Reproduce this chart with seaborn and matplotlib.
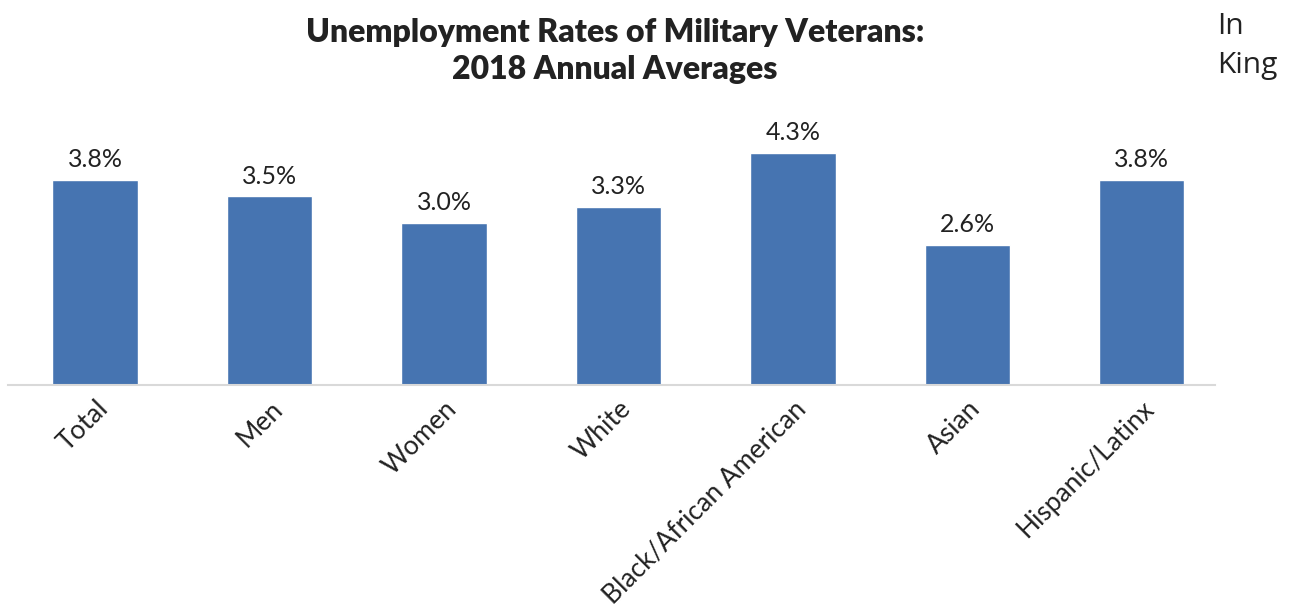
import matplotlib
matplotlib.use("Agg")
import matplotlib.pyplot as plt
import seaborn as sns
import pandas as pd

categories = ["Total", "Men", "Women", "White", "Black/African American", "Asian", "Hispanic/Latinx"]
rates = [3.8, 3.5, 3.0, 3.3, 4.3, 2.6, 3.8]
labels = ["3.8%", "3.5%", "3.0%", "3.3%", "4.3%", "2.6%", "3.8%"]
title = "Unemployment Rates of Military Veterans:\n2018 Annual Averages"

sns.set_theme(style="white")
plt.rcParams['font.family'] = ['Lato', 'DejaVu Sans']

df = pd.DataFrame({"cat": categories, "rate": rates})

fig = plt.figure(figsize=(12.89, 6.16), dpi=100)
ax = fig.add_axes([8/1289, 0.375, (1215-8)/1289, 0.438])
sns.barplot(data=df, x="cat", y="rate", color="#4674B1", saturation=1, width=0.49, ax=ax)
ax.set_xlim(-0.5, 6.42)
ax.set_ylim(0, 5.0)
for i, (v, t) in enumerate(zip(rates, labels)):
    ax.text(i, v + 0.16, t, ha="center", va="bottom", fontsize=18, color="#222222")
ax.set_xlabel("")
ax.set_ylabel("")
ax.set_yticks([])
ax.tick_params(axis="x", length=0, pad=8)
ax.set_xticks(range(len(categories)))
ax.set_xticklabels(categories, rotation=45, ha="right", rotation_mode="anchor", fontsize=19, color="#222222")
for s in ["top", "right", "left"]:
    ax.spines[s].set_visible(False)
ax.spines["bottom"].set_color("#D9D9D9")
ax.spines["bottom"].set_linewidth(1.5)

fig.text(615/1289, 1 - 51/616, title, ha="center", va="center", fontsize=23, fontweight="heavy", color="#222222", linespacing=1.35)
fig.text(1217/1289, 1 - 26/616, "In", ha="left", va="center", fontsize=21.5, color="#222222", family=["Open Sans", "DejaVu Sans"])
fig.text(1217/1289, 1 - 66/616, "King", ha="left", va="center", fontsize=21.5, color="#222222", family=["Open Sans", "DejaVu Sans"])

fig.savefig("out.png", dpi=100)
